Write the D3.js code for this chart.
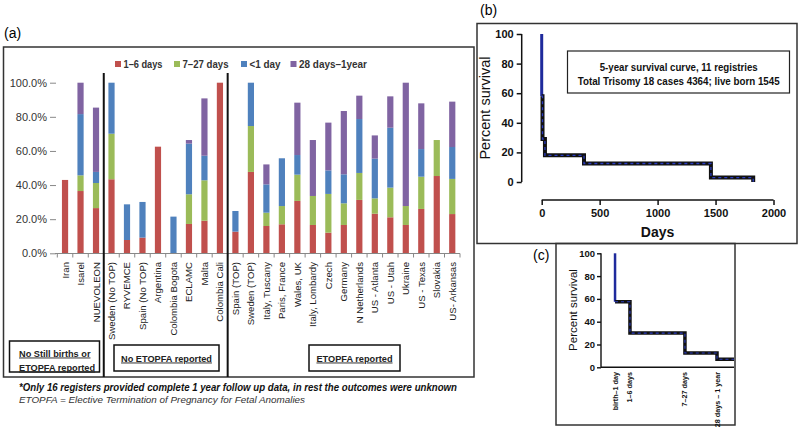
<!DOCTYPE html>
<html><head><meta charset="utf-8">
<script src="https://cdn.jsdelivr.net/npm/d3@7"></script>
<style>
body{margin:0;background:#fff;}
svg{display:block;font-family:"Liberation Sans",Arial,sans-serif;}
</style></head>
<body>
<svg id="c" width="800" height="428"></svg>
<script>
// ---------- Panel (a) data ----------
const categories = ["Iran","Isarel","NUEVOLEON","Sweden (No TOP)","RYVEMCE","Spain (No TOP)","Argentina","Colombia Bogota","ECLAMC","Malta","Colombia Cali","Spain (TOP)","Sweden (TOP)","Italy, Tuscany","Paris, France","Wales, UK","Italy, Lombardy","Czech","Germany","N Netherlands","US - Atlanta","US - Utah","Ukraine","US - Texas","Slovakia","US- Arkansas"];
const days1to6   = [43,36.5,26.5,43.4,7.8,9.2,62.5,0,17.2,19.1,100,12.7,47.7,16,17,30.7,16.6,12.1,16.6,31.3,23.2,21.1,16.6,26,45.3,23];
const days7to27  = [0,9.2,14.7,26.7,0,0,0,0,17.4,23.7,0,0,26.9,7.8,10.7,15.4,17,22.7,12.7,15.8,9,17.4,11.1,18.9,21.1,20.6];
const lessThan1d = [0,35.9,6.5,29.9,20.9,20.9,0,21.5,29.7,14.4,0,12.1,25.4,16.6,28,11.5,0,13.8,17,31.6,23.3,35.1,0,16.2,0,18.7];
const days28to1y = [0,18.4,37.7,0,0,0,0,0,2.1,33.6,0,0,0,11.7,0,30.7,32.8,28,37.1,13.7,13.6,18.4,72.3,26.8,0,26.6];
const seriesNames = ["1–6 days","7–27 days","<1 day","28 days–1year"];
const seriesColors = ["#C0504D","#9BBB59","#4F81BD","#8064A2"];
const yTicksA = [0,20,40,60,80,100];
const groupLabels = [["No Still births or","ETOPFA reported"],["No ETOPFA reported"],["ETOPFA reported"]];
const groupBreaks = [3,11];

// ---------- Panel (b) data ----------
const survDays = [0,0,7,28,365,1460,1825];
const survPct  = [100,58,29,18,12.5,3,0];
const bXTicks = [0,500,1000,1500,2000];
const bYTicks = [0,20,40,60,80,100];

// ---------- Panel (c) data ----------
const cCats = ["birth–1 day","1–6 days","7–27 days","28 days – 1 year"];
const cPos  = [0.95,1.96,5.68,7.85];
const cPct  = [100,57.5,30,12.5,7];

const svg = d3.select("#c");

// ================= Panel (a) =================
svg.append("text").attr("x",4).attr("y",38).attr("font-size",14).text("(a)");
svg.append("rect").attr("x",3.5).attr("y",47).attr("width",470.5).attr("height",330)
  .attr("fill","none").attr("stroke","#333").attr("stroke-width",1.5);

const x = d3.scaleBand().domain(categories).range([57.3,460]).paddingInner(0.6).paddingOuter(0.3);
const y = d3.scaleLinear().domain([0,100]).range([253.3,82.7]);

const table = categories.map((c,i)=>({cat:c, s0:days1to6[i], s1:days7to27[i], s2:lessThan1d[i], s3:days28to1y[i]}));
const stack = d3.stack().keys(["s0","s1","s2","s3"])(table);

const yAxA = svg.append("g").attr("transform","translate(56,0)")
  .call(d3.axisLeft(y).tickValues(yTicksA).tickSize(6).tickFormat(d=>d3.format(".1f")(d)+"%"));
yAxA.select(".domain").remove();
yAxA.selectAll("line").attr("stroke","#888");
yAxA.selectAll("text").attr("font-size",11).attr("fill","#333").attr("font-family","Liberation Sans, Arial").attr("x",-9);

svg.append("g").selectAll("g").data(stack).join("g").attr("fill",(d,i)=>seriesColors[i])
  .selectAll("rect").data(d=>d).join("rect")
  .attr("x",d=>x(d.data.cat)).attr("width",x.bandwidth())
  .attr("y",d=>y(d[1])).attr("height",d=>Math.max(0,y(d[0])-y(d[1])));

const step = x.step();
svg.append("line").attr("x1",55).attr("x2",460).attr("y1",253.5).attr("y2",253.5).attr("stroke","#888");
svg.append("g").selectAll("line").data(d3.range(categories.length+1)).join("line")
  .attr("x1",i=>57.3+i*step).attr("x2",i=>57.3+i*step).attr("y1",253.5).attr("y2",257.5).attr("stroke","#888");
svg.append("g").selectAll("text").data(categories).join("text")
  .attr("transform",d=>`translate(${x(d)+x.bandwidth()/2+3.5},262) rotate(-90)`)
  .attr("text-anchor","end").attr("font-size",9.6).attr("fill","#222").text(d=>d);

groupBreaks.forEach(b=>{
  svg.append("line").attr("x1",57.3+b*step).attr("x2",57.3+b*step).attr("y1",73).attr("y2",377)
    .attr("stroke","#111").attr("stroke-width",2);
});

// legend
const legX = [115,174,241,290.5];
const legW = [39,46,31,68];
seriesNames.forEach((n,i)=>{
  svg.append("rect").attr("x",legX[i]).attr("y",61).attr("width",6).attr("height",6).attr("fill",seriesColors[i]);
  svg.append("text").attr("x",legX[i]+8.5).attr("y",68).attr("font-size",10.5).attr("font-weight","bold")
    .attr("fill","#333").attr("textLength",legW[i]).attr("lengthAdjust","spacingAndGlyphs").text(n);
});

const gBoxes = [{x:9.5,y:341,w:90,h:31,cx:19,anchor:"start"},{x:114,y:345,w:105,h:26,cx:166.5,anchor:"middle"},{x:309,y:345,w:91,h:26,cx:354.5,anchor:"middle"}];
gBoxes.forEach((b,i)=>{
  svg.append("rect").attr("x",b.x).attr("y",b.y).attr("width",b.w).attr("height",b.h)
    .attr("fill","none").attr("stroke","#111").attr("stroke-width",1.5);
  const lines = groupLabels[i];
  lines.forEach((t,j)=>{
    const yy = lines.length===2 ? 356.5+j*14 : 361.5;
    svg.append("text").attr("x",b.cx).attr("y",yy).attr("text-anchor",b.anchor)
      .attr("font-size",9.2).attr("font-weight","bold").attr("fill","#222")
      .attr("text-decoration","underline").text(t);
  });
});

svg.append("text").attr("x",19).attr("y",391).attr("font-size",10.5).attr("font-weight","bold").attr("font-style","italic")
  .attr("fill","#111").attr("textLength",438).attr("lengthAdjust","spacingAndGlyphs")
  .text("*Only 16 registers provided complete 1 year follow up data, in rest the outcomes were unknown");
svg.append("text").attr("x",19).attr("y",403).attr("font-size",9.5).attr("font-style","italic")
  .attr("fill","#333").attr("textLength",286).attr("lengthAdjust","spacingAndGlyphs")
  .text("ETOPFA = Elective  Termination of Pregnancy for Fetal Anomalies");

// ================= Panel (b) =================
svg.append("text").attr("x",480).attr("y",15).attr("font-size",14).text("(b)");
svg.append("rect").attr("x",477).attr("y",23.5).attr("width",320).attr("height",220)
  .attr("fill","none").attr("stroke","#333").attr("stroke-width",1.5);

const bx = d3.scaleLinear().domain([0,2000]).range([541.7,773.5]);
const by = d3.scaleLinear().domain([0,100]).range([182,34]);

const bYA = svg.append("g").attr("transform","translate(521.7,0)")
  .call(d3.axisLeft(by).tickValues(bYTicks).tickSize(5).tickPadding(3));
bYA.selectAll("path,line").attr("stroke","#111").attr("stroke-width",1.5);
bYA.selectAll("text").attr("font-size",11).attr("font-weight","bold").attr("fill","#111");
bYA.select(".domain").attr("d","M0,34V182");

const bXA = svg.append("g").attr("transform","translate(0,200)")
  .call(d3.axisBottom(bx).tickValues(bXTicks).tickSize(5).tickPadding(4).tickFormat(d3.format("d")));
bXA.selectAll("path,line").attr("stroke","#111").attr("stroke-width",1.5);
bXA.selectAll("text").attr("font-size",11).attr("font-weight","bold").attr("fill","#111");
bXA.select(".domain").attr("d",`M${bx(0)},0H${bx(2000)}`);

svg.append("text").attr("transform","translate(490,108) rotate(-90)").attr("text-anchor","middle")
  .attr("font-size",14.5).attr("fill","#111").text("Percent survival");
svg.append("text").attr("x",bx(1000)).attr("y",237).attr("text-anchor","middle")
  .attr("font-size",14).attr("font-weight","bold").attr("fill","#111").text("Days");

svg.append("rect").attr("x",567.5).attr("y",51).attr("width",222).attr("height",42)
  .attr("fill","none").attr("stroke","#222").attr("stroke-width",1.2);
svg.append("text").attr("x",678.7).attr("y",70.5).attr("text-anchor","middle").attr("font-size",10.5)
  .attr("font-weight","bold").attr("fill","#111").attr("textLength",158).attr("lengthAdjust","spacingAndGlyphs")
  .text("5-year survival curve, 11 registries");
svg.append("text").attr("x",678.7).attr("y",85).attr("text-anchor","middle").attr("font-size",10.5)
  .attr("font-weight","bold").attr("fill","#111").attr("textLength",202).attr("lengthAdjust","spacingAndGlyphs")
  .text("Total Trisomy 18 cases 4364; live born 1545");

const bPts = survDays.map((d,i)=>[d,survPct[i]]);
const bLine = d3.line().x(d=>bx(d[0])).y(d=>by(d[1])).curve(d3.curveStepAfter);
svg.append("path").attr("d",bLine(bPts.slice(0,2))).attr("fill","none").attr("stroke","#1f2a9c").attr("stroke-width",3);
svg.append("path").attr("d",bLine(bPts.slice(1))).attr("fill","none").attr("stroke","#111").attr("stroke-width",4);
svg.append("path").attr("d",bLine(bPts.slice(1))).attr("fill","none").attr("stroke","#2b3cc0").attr("stroke-width",1.3).attr("stroke-dasharray","3,3");

// ================= Panel (c) =================
svg.append("text").attr("x",533).attr("y",260).attr("font-size",14).text("(c)");
svg.append("rect").attr("x",556).attr("y",243.5).attr("width",179).attr("height",181.5)
  .attr("fill","none").attr("stroke","#333").attr("stroke-width",1.5);

const cx = d3.scaleLinear().domain([0,9]).range([601,734]);
const cy = d3.scaleLinear().domain([0,100]).range([367.3,253.3]);

const cYA = svg.append("g").attr("transform","translate(601,0)")
  .call(d3.axisLeft(cy).tickValues(bYTicks).tickSize(4).tickPadding(2));
cYA.selectAll("path,line").attr("stroke","#111").attr("stroke-width",1.4);
cYA.selectAll("text").attr("font-size",9.5).attr("font-weight","bold").attr("fill","#111");
cYA.select(".domain").attr("d","M0,253.3V367.3");
svg.append("line").attr("x1",601).attr("x2",734).attr("y1",367.3).attr("y2",367.3).attr("stroke","#111").attr("stroke-width",1.4);

svg.append("text").attr("transform","translate(577,310) rotate(-90)").attr("text-anchor","middle")
  .attr("font-size",11.5).attr("fill","#111").text("Percent survival");
svg.append("g").selectAll("text").data(cCats).join("text")
  .attr("transform",(d,i)=>`translate(${cx(cPos[i])+2.5},372) rotate(-90)`)
  .attr("text-anchor","end").attr("font-size",7.2).attr("font-weight","bold").attr("fill","#111").text(d=>d);

const cPts = [[cPos[0],cPct[0]]].concat(cPos.map((p,i)=>[p,cPct[i+1]])).concat([[9,cPct[cPct.length-1]]]);
const cLine = d3.line().x(d=>cx(d[0])).y(d=>cy(d[1])).curve(d3.curveStepAfter);
svg.append("path").attr("d",cLine(cPts.slice(0,2))).attr("fill","none").attr("stroke","#1f2a9c").attr("stroke-width",2.5);
svg.append("path").attr("d",cLine(cPts.slice(1))).attr("fill","none").attr("stroke","#111").attr("stroke-width",3.5);
svg.append("path").attr("d",cLine(cPts.slice(1))).attr("fill","none").attr("stroke","#2b3cc0").attr("stroke-width",1.1).attr("stroke-dasharray","3,3");
</script>
</body></html>
